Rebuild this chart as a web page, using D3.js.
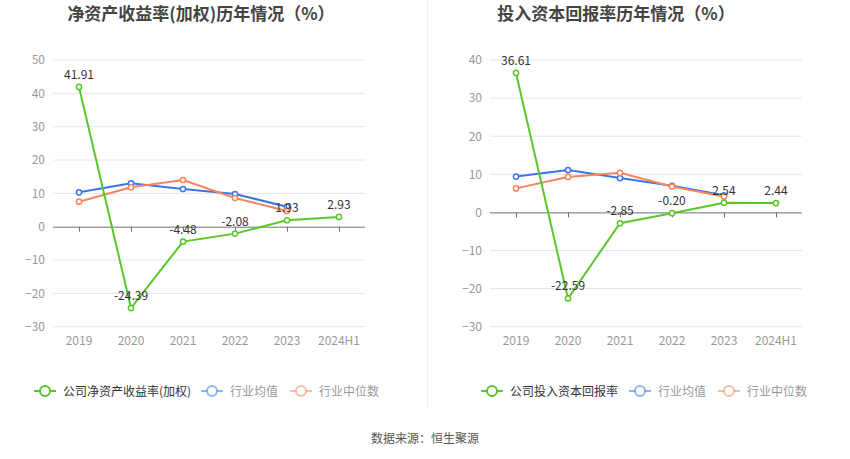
<!DOCTYPE html>
<html>
<head>
<meta charset="utf-8">
<script src="https://cdn.jsdelivr.net/npm/d3@7"></script>
<style>
  body { margin: 0; background: #fff; }
  svg text { font-family: "Noto Sans CJK SC", "Noto Sans", sans-serif; }
</style>
</head>
<body>
<div id="chart"></div>
<script>
const years = ['2019', '2020', '2021', '2022', '2023', '2024H1'];

// left panel: ROE (weighted)
const roeCompany = [41.91, -24.39, -4.48, -2.08, 1.93, 2.93];
const roeAvg = [10.3, 13.0, 11.3, 9.8, 6.0];
const roeMedian = [7.5, 11.8, 14.0, 8.6, 4.7];
const roeTicks = [50, 40, 30, 20, 10, 0, -10, -20, -30];

// right panel: ROIC
const roicCompany = [36.61, -22.59, -2.85, -0.20, 2.54, 2.44];
const roicAvg = [9.4, 11.1, 9.0, 7.0, 4.5];
const roicMedian = [6.3, 9.3, 10.4, 6.8, 4.2];
const roicTicks = [40, 30, 20, 10, 0, -10, -20, -30];

const width = 850, height = 459;
const green = '#5ac62b', blue = '#3b76e6', orange = '#f5855c';

const svg = d3.select('#chart')
              .append('svg')
              .attr('width', width)
              .attr('height', height);

// divider between the two panels
svg.append('line')
   .attr('x1', 427.5).attr('x2', 427.5)
   .attr('y1', 0).attr('y2', 408)
   .style('stroke', '#eeeeee');

svg.append('text')
   .attr('x', 425).attr('y', 443)
   .style('text-anchor', 'middle')
   .style('fill', '#555')
   .style('font-size', '12px')
   .text('数据来源：恒生聚源');

function panel(opt) {
    const g = svg.append('g');

    g.append('text')
     .attr('x', opt.titleX).attr('y', 20)
     .style('text-anchor', 'middle')
     .style('font-weight', 'bold')
     .style('font-size', '17px')
     .style('fill', '#444')
     .text(opt.title);

    let x = d3.scalePoint().domain(years).range([opt.left + 26, opt.right - 26]);
    let y = d3.scaleLinear()
              .domain([d3.min(opt.ticks), d3.max(opt.ticks)])
              .range([326.7, 60]);

    // grid
    g.selectAll('.grid')
     .data(opt.ticks.filter(t => t != 0))
     .enter()
     .append('line')
     .attr('x1', opt.left).attr('x2', opt.right)
     .attr('y1', d => y(d)).attr('y2', d => y(d))
     .style('stroke', '#e0e6f1');

    let yAxis = d3.axisLeft(y).tickValues(opt.ticks).tickSize(0).tickPadding(8);
    let yAxisGroup = g.append('g')
                      .attr('transform', 'translate(' + opt.left + ',0)')
                      .call(yAxis);
    yAxisGroup.select('.domain').remove();
    yAxisGroup.selectAll('text').style('fill', '#999').style('font-size', '12px');

    // zero line with ticks under each category
    let xAxis = d3.axisBottom(x).tickSize(5).tickFormat('');
    let zeroGroup = g.append('g')
                     .attr('transform', 'translate(0,' + y(0) + ')')
                     .call(xAxis);
    zeroGroup.select('.domain')
             .attr('d', 'M' + opt.left + ',0.5H' + opt.right)
             .style('stroke', '#6e7079');
    zeroGroup.selectAll('.tick line').style('stroke', '#6e7079');

    // category labels
    g.selectAll('.cat')
     .data(years)
     .enter()
     .append('text')
     .attr('x', d => x(d))
     .attr('y', 345)
     .style('text-anchor', 'middle')
     .style('fill', '#999')
     .style('font-size', '12px')
     .text(d => d);

    let line = d3.line()
                 .x((d, i) => x(years[i]))
                 .y(d => y(d));

    [[opt.avg, blue], [opt.median, orange], [opt.company, green]].forEach(s => {
        g.append('path')
         .datum(s[0])
         .attr('d', line)
         .style('fill', 'none')
         .style('stroke', s[1])
         .style('stroke-width', 2);

        g.selectAll('.pt')
         .data(s[0])
         .enter()
         .append('circle')
         .attr('cx', (d, i) => x(years[i]))
         .attr('cy', d => y(d))
         .attr('r', 2.6)
         .style('fill', '#fff')
         .style('stroke', s[1])
         .style('stroke-width', 1.5);
    });

    g.selectAll('.lbl')
     .data(opt.company)
     .enter()
     .append('text')
     .attr('x', (d, i) => x(years[i]))
     .attr('y', d => y(d) - 8)
     .style('text-anchor', 'middle')
     .style('fill', '#333')
     .style('font-size', '12px')
     .text(d => d.toFixed(2));

    // legend
    let items = [[opt.legendName, green, '#333'],
                 ['行业均值', blue, '#999'],
                 ['行业中位数', orange, '#999']];
    let lx = opt.legendX;
    items.forEach((it, i) => {
        let cx = lx[i];
        let col = d3.color(it[1]);
        if (i > 0) col.opacity = 0.55;
        g.append('line')
         .attr('x1', cx - 11).attr('x2', cx + 11)
         .attr('y1', 391).attr('y2', 391)
         .style('stroke', col.toString())
         .style('stroke-width', 2);
        g.append('circle')
         .attr('cx', cx).attr('cy', 391).attr('r', 5)
         .style('fill', '#fff')
         .style('stroke', col.toString())
         .style('stroke-width', 2);
        g.append('text')
         .attr('x', cx + 18).attr('y', 395.5)
         .style('fill', it[2])
         .style('font-size', '12px')
         .text(it[0]);
    });
}

panel({
    title: '净资产收益率(加权)历年情况（%）',
    titleX: 201,
    left: 53, right: 365,
    ticks: roeTicks,
    company: roeCompany, avg: roeAvg, median: roeMedian,
    legendName: '公司净资产收益率(加权)',
    legendX: [45, 212, 301]
});

panel({
    title: '投入资本回报率历年情况（%）',
    titleX: 616,
    left: 490, right: 802,
    ticks: roicTicks,
    company: roicCompany, avg: roicAvg, median: roicMedian,
    legendName: '公司投入资本回报率',
    legendX: [492, 640, 729]
});
</script>
</body>
</html>
